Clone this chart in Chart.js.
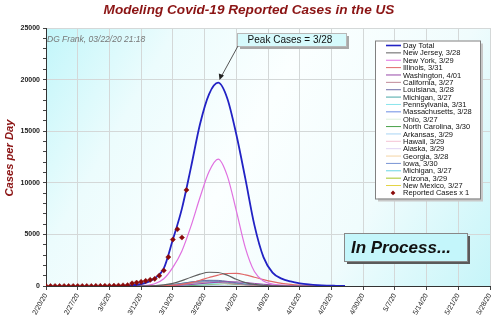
<!DOCTYPE html>
<html>
<head>
<meta charset="utf-8">
<script src="https://cdn.jsdelivr.net/npm/chart.js"></script>
<title>Modeling Covid-19 Reported Cases in the US</title>
<style>
    html, body { margin: 0; padding: 0; background: #fff; }
    #wrap { width: 500px; height: 322px; }
</style>
</head>
<body>
<div id="wrap"><canvas id="chart" width="500" height="322"></canvas></div>
<script>
// days counted from 2/20/20
const xLabels = ['2/20/20', '2/27/20', '3/5/20', '3/12/20', '3/19/20', '3/26/20', '4/2/20', '4/9/20',
    '4/16/20', '4/23/20', '4/30/20', '5/7/20', '5/14/20', '5/21/20', '5/28/20']

const gridDays = [16, 18, 20, 22, 24, 26, 28, 30, 32, 34, 36, 38, 40, 42, 44, 46, 48, 50, 52, 54, 56, 58, 60, 62, 64, 66]

const dayTotal      = [15, 40, 120, 300, 750, 1700, 4500, 7500, 11500, 15700, 18600, 19700, 18200, 14700, 10400, 5900, 2800, 1300, 720, 440, 260, 150, 80, 40, 20, 5]
const newYork       = [0, 5, 20, 60, 220, 700, 1800, 3400, 5800, 8600, 11100, 12300, 10700, 7300, 3700, 1400, 480, 190, 80, 30, 10, 0, 0, 0, 0, 0]
const newJersey     = [0, 0, 5, 15, 40, 100, 250, 520, 850, 1150, 1330, 1310, 1050, 650, 330, 150, 60, 20, 5, 0, 0, 0, 0, 0, 0, 0]
const illinois      = [0, 0, 0, 5, 10, 30, 60, 150, 320, 560, 820, 1060, 1210, 1220, 1080, 850, 620, 420, 260, 150, 80, 40, 15, 5, 0, 0]
const washington    = [0, 0, 0, 0, 5, 15, 40, 80, 140, 220, 300, 370, 410, 400, 340, 250, 170, 100, 55, 25, 10, 5, 0, 0, 0, 0]
const california    = [0, 0, 0, 5, 15, 40, 90, 170, 260, 340, 380, 350, 270, 170, 90, 40, 15, 5, 0, 0, 0, 0, 0, 0, 0, 0]
const louisiana     = [0, 0, 0, 5, 20, 55, 130, 250, 380, 490, 555, 545, 450, 310, 180, 90, 40, 15, 5, 0, 0, 0, 0, 0, 0, 0]
const michigan      = [0, 0, 0, 5, 20, 60, 140, 260, 390, 480, 520, 480, 370, 240, 130, 60, 25, 10, 0, 0, 0, 0, 0, 0, 0, 0]
const pennsylvania  = [0, 0, 0, 0, 5, 15, 35, 70, 120, 180, 240, 285, 300, 280, 230, 160, 100, 55, 25, 10, 5, 0, 0, 0, 0, 0]
const massachusetts = [0, 0, 0, 5, 15, 45, 100, 190, 290, 380, 440, 440, 370, 260, 160, 85, 40, 15, 5, 0, 0, 0, 0, 0, 0, 0]
const ohio          = [0, 0, 0, 0, 5, 20, 50, 100, 150, 190, 200, 180, 130, 80, 40, 15, 5, 0, 0, 0, 0, 0, 0, 0, 0, 0]
const northCarolina = [0, 0, 0, 0, 0, 5, 15, 35, 65, 100, 135, 155, 160, 140, 105, 70, 40, 20, 10, 5, 0, 0, 0, 0, 0, 0]
const arkansas      = [0, 0, 0, 0, 0, 5, 10, 25, 45, 65, 82, 90, 85, 65, 42, 25, 12, 5, 0, 0, 0, 0, 0, 0, 0, 0]
const hawaii        = [0, 0, 0, 0, 0, 0, 5, 10, 15, 22, 28, 30, 28, 22, 15, 8, 4, 0, 0, 0, 0, 0, 0, 0, 0, 0]
const alaska        = [0, 0, 0, 0, 0, 0, 3, 7, 12, 18, 23, 25, 23, 18, 12, 7, 3, 0, 0, 0, 0, 0, 0, 0, 0, 0]
const georgia       = [0, 0, 0, 0, 5, 15, 35, 70, 120, 170, 210, 215, 185, 130, 80, 40, 18, 6, 0, 0, 0, 0, 0, 0, 0, 0]
const iowa          = [0, 0, 0, 0, 0, 0, 5, 12, 22, 36, 52, 64, 70, 64, 50, 34, 20, 10, 4, 0, 0, 0, 0, 0, 0, 0]
const michigan2     = [0, 0, 0, 0, 5, 20, 55, 110, 170, 225, 250, 230, 175, 110, 60, 25, 10, 0, 0, 0, 0, 0, 0, 0, 0, 0]
const arizona       = [0, 0, 0, 0, 0, 5, 12, 25, 45, 70, 95, 108, 105, 85, 60, 35, 18, 8, 0, 0, 0, 0, 0, 0, 0, 0]
const newMexico     = [0, 0, 0, 0, 0, 3, 8, 15, 25, 34, 40, 38, 30, 20, 11, 5, 0, 0, 0, 0, 0, 0, 0, 0, 0, 0]

const reportedDays  = [0, 1, 2, 3, 4, 5, 6, 7, 8, 9, 10, 11, 12, 13, 14, 15, 16, 17, 18, 19, 20, 21, 22, 23, 24, 25, 26, 27, 28, 29, 30, 31]
const reportedCases = [0, 0, 0, 0, 0, 0, 0, 0, 0, 0, 0, 5, 10, 15, 20, 30, 40, 60, 80, 260, 330, 400, 500, 600, 700, 1000, 1500, 2800, 4500, 5500, 4700, 9300]

function pts(values) {
    return gridDays.map(function (d, i) { return { x: d, y: values[i] } })
}

function model(label, values, color, width) {
    return {
        label: label,
        data: pts(values),
        borderColor: color,
        backgroundColor: color,
        borderWidth: width || 1,
        pointRadius: 0,
        cubicInterpolationMode: 'monotone',
        fill: false
    }
}

const datasets = [
    model('Day Total', dayTotal, '#2222c4', 1.8),
    model('New Jersey, 3/28', newJersey, '#606060', 1.2),
    model('New York, 3/29', newYork, '#e070e0', 1.2),
    model('Illinois, 3/31', illinois, '#e06868', 1.2),
    model('Washington, 4/01', washington, '#9848a8'),
    model('California, 3/27', california, '#c08a98'),
    model('Louisiana, 3/28', louisiana, '#6e6ea8'),
    model('Michigan, 3/27', michigan, '#48a8a8'),
    model('Pennsylvania, 3/31', pennsylvania, '#88e4ec'),
    model('Massachusetts, 3/28', massachusetts, '#6c8ce4'),
    model('Ohio, 3/27', ohio, '#dcf0dc'),
    model('North Carolina, 3/30', northCarolina, '#48a048'),
    model('Arkansas, 3/29', arkansas, '#a8d4f4'),
    model('Hawaii, 3/29', hawaii, '#f4c4d4'),
    model('Alaska, 3/29', alaska, '#e0d4f4'),
    model('Georgia, 3/28', georgia, '#f4d4a4'),
    model('Iowa, 3/30', iowa, '#7894d4'),
    model('Michigan, 3/27', michigan2, '#68d4e4'),
    model('Arizona, 3/29', arizona, '#a4c424'),
    model('New Mexico, 3/27', newMexico, '#e4d444'),
    {
        label: 'Reported Cases x 1',
        data: reportedDays.map(function (d, i) { return { x: d, y: reportedCases[i] } }),
        showLine: false,
        pointStyle: 'rectRot',
        pointRadius: 2.6,
        pointBackgroundColor: '#8b0a0a',
        pointBorderColor: '#8b0a0a',
        pointBorderWidth: 0.5,
        borderColor: '#8b0a0a',
        backgroundColor: '#8b0a0a',
        order: -1
    }
]

const background = {
    id: 'background',
    beforeDraw: function (chart) {
        const ctx = chart.ctx
        const a = chart.chartArea
        ctx.save()
        ctx.fillStyle = '#fff'
        ctx.fillRect(0, 0, chart.width, chart.height)
        const g = ctx.createLinearGradient(a.left, a.top, a.right, a.bottom)
        g.addColorStop(0, '#c2f6fa')
        g.addColorStop(0.22, '#ecfcfd')
        g.addColorStop(0.45, '#fbffff')
        g.addColorStop(0.72, '#f0fcfd')
        g.addColorStop(1, '#c6f5f9')
        ctx.fillStyle = g
        ctx.fillRect(a.left, a.top, a.right - a.left, a.bottom - a.top)
        ctx.restore()
    }
}

function shadowBox(ctx, x, y, w, h, fill, shadow, border) {
    ctx.fillStyle = shadow
    ctx.fillRect(x + 3, y + 3, w, h)
    ctx.fillStyle = fill
    ctx.fillRect(x, y, w, h)
    ctx.strokeStyle = border
    ctx.lineWidth = 1
    ctx.strokeRect(x + 0.5, y + 0.5, w, h)
}

const decorations = {
    id: 'decorations',
    afterDraw: function (chart) {
        const ctx = chart.ctx
        ctx.save()

        // title
        ctx.fillStyle = '#8b1414'
        ctx.font = 'italic bold 13.6px "Liberation Sans", Arial, sans-serif'
        ctx.textAlign = 'center'
        ctx.textBaseline = 'middle'
        ctx.fillText('Modeling Covid-19 Reported Cases in the US', 249, 10)

        // y axis title
        ctx.save()
        ctx.translate(10, 158)
        ctx.rotate(-Math.PI / 2)
        ctx.font = 'italic bold 11.2px "Liberation Sans", Arial, sans-serif'
        ctx.fillText('Cases per Day', 0, 0)
        ctx.restore()

        // stamp
        ctx.fillStyle = '#777'
        ctx.font = 'italic 8.5px "Liberation Sans", Arial, sans-serif'
        ctx.textAlign = 'left'
        ctx.fillText('DG Frank, 03/22/20 21:18', 47, 39.5)

        // peak annotation
        shadowBox(ctx, 237, 33, 109, 13, '#d6fafc', '#a8a8a8', '#b8b8b8')
        ctx.fillStyle = '#111'
        ctx.font = '10px "Liberation Sans", Arial, sans-serif'
        ctx.textAlign = 'center'
        ctx.fillText('Peak Cases = 3/28', 290, 40)
        ctx.strokeStyle = '#555'
        ctx.lineWidth = 1
        ctx.beginPath()
        ctx.moveTo(238, 46)
        ctx.lineTo(221, 77)
        ctx.stroke()
        ctx.fillStyle = '#222'
        ctx.beginPath()
        ctx.moveTo(219.5, 80)
        ctx.lineTo(218.8, 73.5)
        ctx.lineTo(224, 75.5)
        ctx.closePath()
        ctx.fill()

        // in process box
        shadowBox(ctx, 344, 233, 123, 28, '#c4f6fb', '#5a5a5a', '#888')
        ctx.fillStyle = '#111'
        ctx.font = 'italic bold 17px "Liberation Sans", Arial, sans-serif'
        ctx.fillText('In Process...', 401, 248)

        // legend
        const lx = 375, ly = 40.5, lw = 105, lh = 158
        shadowBox(ctx, lx, ly, lw, lh, '#fff', '#c8c8c8', '#808080')
        ctx.font = '7.5px "Liberation Sans", Arial, sans-serif'
        ctx.textAlign = 'left'
        chart.data.datasets.forEach(function (ds, i) {
            const y = 45.5 + i * 7.37
            if (ds.showLine === false) {
                ctx.fillStyle = ds.pointBackgroundColor
                ctx.beginPath()
                ctx.moveTo(393, y - 2.4)
                ctx.lineTo(395.4, y)
                ctx.lineTo(393, y + 2.4)
                ctx.lineTo(390.6, y)
                ctx.closePath()
                ctx.fill()
            } else {
                ctx.strokeStyle = ds.borderColor
                ctx.lineWidth = ds.borderWidth > 1.5 ? 1.6 : 1
                ctx.beginPath()
                ctx.moveTo(386, y)
                ctx.lineTo(401, y)
                ctx.stroke()
            }
            ctx.fillStyle = '#111'
            ctx.fillText(ds.label, 403, y + 0.5)
        })

        ctx.restore()
    }
}

new Chart(document.getElementById('chart'), {
    type: 'line',
    data: { datasets: datasets },
    options: {
        responsive: false,
        animation: false,
        layout: { padding: { top: 28, right: 10, left: 0, bottom: 0 } },
        plugins: {
            legend: { display: false },
            tooltip: { enabled: false },
            title: { display: false }
        },
        scales: {
            x: {
                type: 'linear',
                min: 0,
                max: 98,
                afterFit: function (scale) { scale.height = 36 },
                ticks: {
                    stepSize: 7,
                    autoSkip: false,
                    minRotation: 60,
                    maxRotation: 60,
                    padding: 2,
                    color: '#222',
                    font: { size: 7, family: '"Liberation Sans", Arial, sans-serif' },
                    callback: function (v) { return xLabels[Math.round(v / 7)] }
                },
                grid: { color: '#d4d8d8', tickLength: 4, tickColor: '#444' },
                border: { color: '#333', width: 1 }
            },
            y: {
                min: 0,
                max: 25000,
                afterFit: function (scale) { scale.width = 46 },
                ticks: {
                    stepSize: 1000,
                    autoSkip: false,
                    padding: 3,
                    color: '#222',
                    font: { size: 7, weight: 'bold', family: '"Liberation Sans", Arial, sans-serif' },
                    callback: function (v) { return v % 5000 === 0 ? String(v) : '' }
                },
                grid: {
                    color: function (c) { return c.tick && c.tick.value % 5000 === 0 ? '#d4d8d8' : 'rgba(0,0,0,0)' },
                    tickColor: '#444',
                    tickLength: 3
                },
                border: { color: '#333', width: 1 }
            }
        }
    },
    plugins: [background, decorations]
})
</script>
</body>
</html>
